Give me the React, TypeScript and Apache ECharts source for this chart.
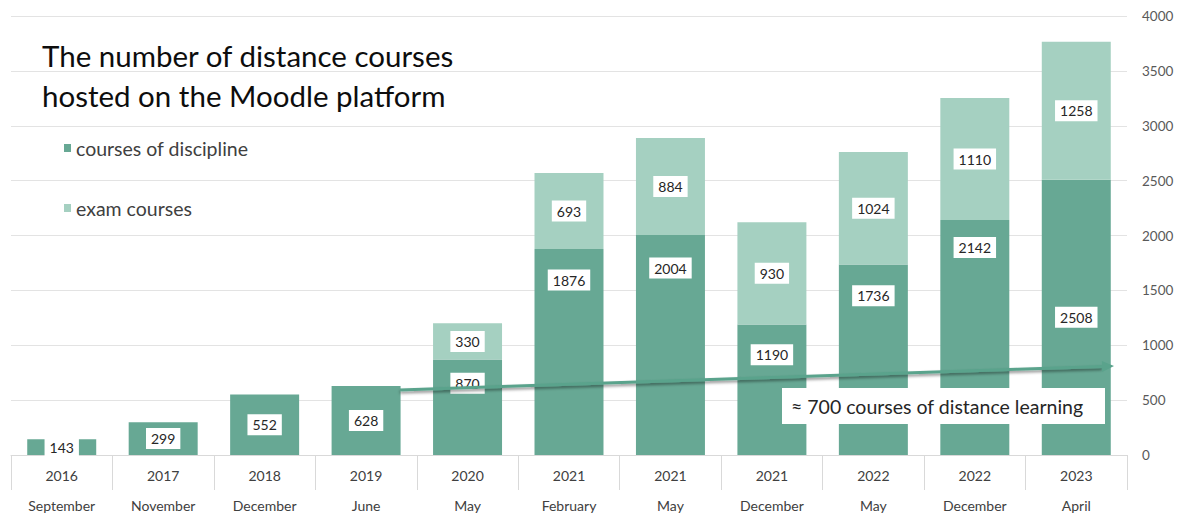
import React, { useEffect, useRef } from "react";
import * as echarts from "echarts";

const years = ["2016", "2017", "2018", "2019", "2020", "2021", "2021", "2021", "2022", "2022", "2023"];
const months = ["September", "November", "December", "June", "May", "February", "May", "December", "May", "December", "April"];
const disciplineCourses = [143, 299, 552, 628, 870, 1876, 2004, 1190, 1736, 2142, 2508];
const examCourses = [null, null, null, null, 330, 693, 884, 930, 1024, 1110, 1258];
const yTicks = { min: 0, max: 4000, interval: 500 };
// label shifts (pixels) for the dark series labels, as placed in the original
const discLabelShift = [0, 0, 0, 0, -24, -72, -77, -35, -64, -90, 0];

const DARK = "#67a894";
const LIGHT = "#a5d0c1";
const FONT = "Lato, 'Open Sans', sans-serif";

export default function App() {
  const ref = useRef<HTMLDivElement>(null);
  useEffect(() => {
    if (!ref.current) return;
    const chart = echarts.init(ref.current, null, { renderer: "svg" });
    const categories = years.map((y, i) => y + "\n" + months[i]);
    const labelBase = {
      show: true,
      position: "inside",
      color: "#262626",
      backgroundColor: "#ffffff",
      padding: [4, 5, 3, 5],
      fontSize: 14,
      fontFamily: FONT,
    };
    // arrow geometry
    const x1 = 400, y1 = 390, tipX = 1114, tipY = 366;
    const dx = tipX - x1, dy = tipY - y1;
    const len = Math.sqrt(dx * dx + dy * dy);
    const ux = dx / len, uy = dy / len;
    const headL = 12, headW = 5.5;
    const bx = tipX - ux * headL, by = tipY - uy * headL;
    chart.setOption({
      animation: false,
      grid: { left: 11, right: 53, top: 16, bottom: 60, containLabel: false, outerBoundsMode: "none" },
      legend: {
        orient: "vertical",
        left: 59,
        top: 132,
        icon: "rect",
        itemWidth: 7,
        itemHeight: 8,
        itemGap: 38,
        textStyle: { fontSize: 19.5, fontFamily: FONT, color: "#404040", lineHeight: 22 },
        data: ["courses of discipline", "exam courses"],
      },
      xAxis: {
        type: "category",
        data: categories,
        axisLine: { show: true, lineStyle: { color: "#d9d9d9" } },
        axisTick: { show: true, length: 35, lineStyle: { color: "#d9d9d9" }, interval: 0 },
        axisLabel: {
          interval: 0,
          margin: 5,
          color: "#404040",
          fontSize: 14,
          fontFamily: FONT,
          lineHeight: 30,
        },
      },
      yAxis: {
        type: "value",
        position: "right",
        min: yTicks.min,
        max: yTicks.max,
        interval: yTicks.interval,
        axisLine: { show: false },
        axisTick: { show: false },
        splitLine: { lineStyle: { color: "#e3e3e3" } },
        axisLabel: {
          color: "#595959",
          fontSize: 13.5,
          fontFamily: FONT,
          align: "left",
          margin: 15,
          formatter: (v: number) => String(v),
        },
      },
      series: [
        {
          name: "courses of discipline",
          type: "bar",
          stack: "total",
          barCategoryGap: "32%",
          itemStyle: { color: DARK },
          label: labelBase,
          data: disciplineCourses.map((v, i) => ({
            value: v,
            label: { offset: [0, discLabelShift[i]] },
          })),
        },
        {
          name: "exam courses",
          type: "bar",
          stack: "total",
          barCategoryGap: "32%",
          itemStyle: { color: LIGHT },
          label: labelBase,
          data: examCourses,
        },
      ],
      graphic: [
        {
          type: "text",
          left: 42,
          top: 35,
          z: 100,
          style: {
            text: "The number of distance courses\nhosted on the Moodle platform",
            fontSize: 29.5,
            fontFamily: FONT,
            fill: "#0d0d0d",
            lineHeight: 40,
          },
        },
        {
          type: "line",
          z: 100,
          shape: { x1, y1, x2: bx, y2: by },
          style: {
            stroke: "#5aa38c",
            lineWidth: 3,
            shadowBlur: 3,
            shadowColor: "rgba(0,0,0,0.45)",
            shadowOffsetY: 2,
          },
        },
        {
          type: "polygon",
          z: 100,
          shape: {
            points: [
              [tipX, tipY],
              [bx - uy * headW, by + ux * headW],
              [bx + uy * headW, by - ux * headW],
            ],
          },
          style: { fill: "#5aa38c" },
        },
        {
          type: "rect",
          z: 100,
          shape: { x: 782, y: 388, width: 323, height: 36 },
          style: { fill: "#ffffff" },
        },
        {
          type: "text",
          z: 101,
          x: 791,
          y: 406,
          style: {
            text: "≈ 700 courses of distance learning",
            fontSize: 19.5,
            fontFamily: FONT,
            fill: "#262626",
            verticalAlign: "middle",
          },
        },
      ],
    });
    return () => chart.dispose();
  }, []);
  return <div ref={ref} style={{ position: "absolute", left: 0, top: 0, width: 1180, height: 515 }} />;
}
